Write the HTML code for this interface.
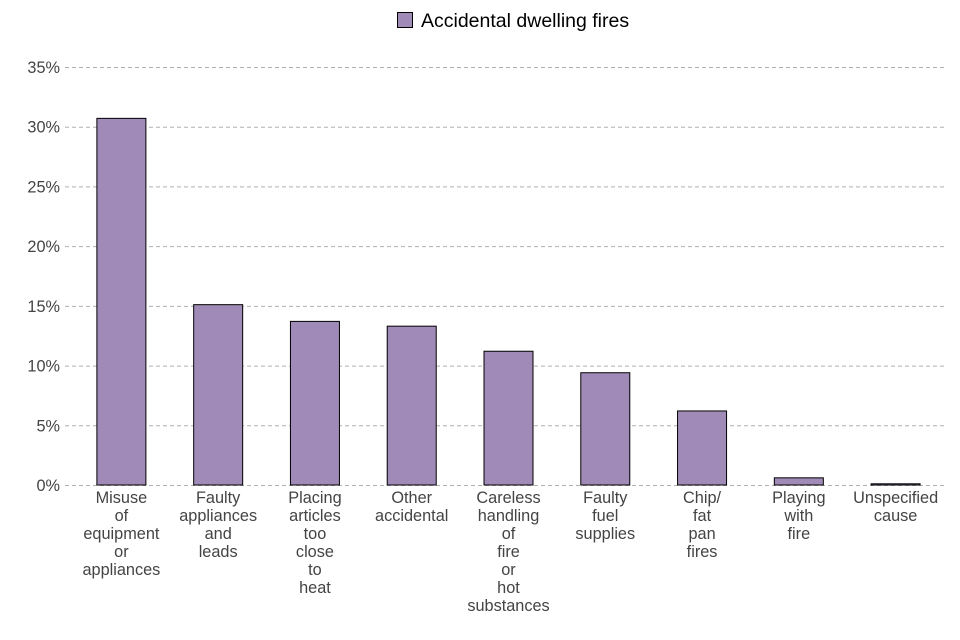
<!DOCTYPE html>
<html><head><meta charset="utf-8"><style>
body{margin:0;background:#fff}
svg{display:block;font-family:"Liberation Sans",sans-serif}
</style></head><body>
<svg id="chart" width="960" height="640">
<g>
<rect x="397.5" y="12.5" width="15" height="15" fill="#a08ab7" stroke="#000"/>
<text x="421" y="27" font-size="19.5" fill="#000">Accidental dwelling fires</text>
</g>
<g id="grid"></g><g id="bars"></g><g id="labels"></g>
</svg>
<script>
const categories=[["Misuse","of","equipment","or","appliances"],["Faulty","appliances","and","leads"],["Placing","articles","too","close","to","heat"],["Other","accidental"],["Careless","handling","of","fire","or","hot","substances"],["Faulty","fuel","supplies"],["Chip/","fat","pan","fires"],["Playing","with","fire"],["Unspecified","cause"]];
const values=[30.7,15.1,13.7,13.3,11.2,9.4,6.2,0.6,0.1];
const ticks=[0,5,10,15,20,25,30,35];
const NS="http://www.w3.org/2000/svg";
const y0=485,yTop=67,yMax=35,left=73,right=944;
const y=v=>y0-(v/yMax)*(y0-yTop);
const band=(right-left)/categories.length;
const x=i=>left+band*(i+0.5);
function mk(t,a,p){const e=document.createElementNS(NS,t);for(const k in a)e.setAttribute(k,a[k]);p.appendChild(e);return e;}
const g=document.getElementById('grid'),b=document.getElementById('bars'),l=document.getElementById('labels');
ticks.forEach(t=>{
const ln=mk('line',{x1:65,x2:945,y1:y(t)+0.5,y2:y(t)+0.5,stroke:'#b0b0b0','stroke-dasharray':'4,3'},g);


const tx=mk('text',{x:60,y:y(t)+6,'text-anchor':'end','font-size':16.3,fill:'#444'},g);
tx.textContent=t+'%';


});
values.forEach((v,i)=>{
const r=mk('rect',{x:x(i)-24.5,y:y(v),width:49,height:Math.max(y0-y(v),0.5),fill:'#a08ab7',stroke:'#000','stroke-width':1},b);


const t=mk('text',{'text-anchor':'middle','font-size':16.3,fill:'#444'},l);


categories[i].forEach((w,j)=>{const s=mk('tspan',{x:x(i),y:503+j*18},t);s.textContent=w;});
});
</script>
</body></html>
